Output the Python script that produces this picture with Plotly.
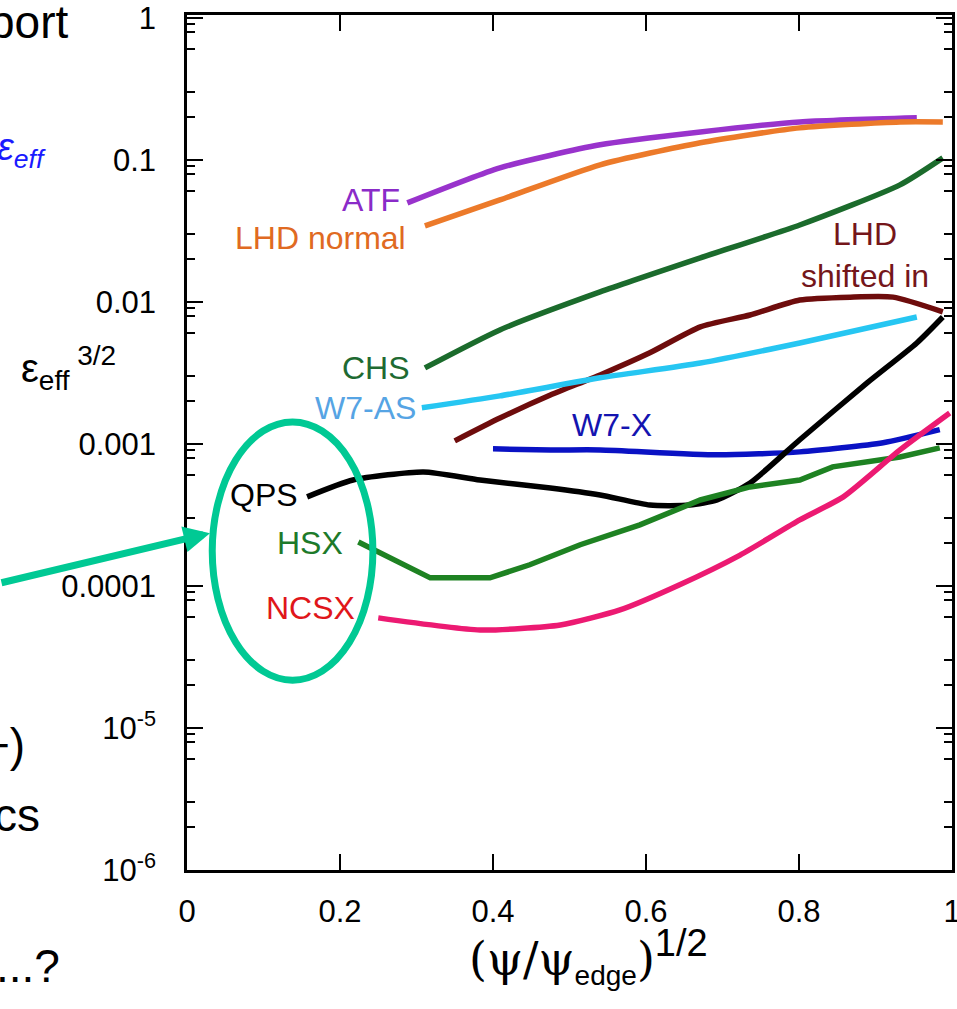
import plotly.graph_objects as go

# Effective ripple eps_eff^(3/2) versus normalised radius for several stellarators
atf_x = [0.288, 0.409, 0.540, 0.671, 0.801, 0.954]
atf_y = [0.0498, 0.0879, 0.1276, 0.157, 0.185, 0.198]

lhd_normal_x = [0.311, 0.409, 0.540, 0.671, 0.801, 0.932, 0.988]
lhd_normal_y = [0.0343, 0.0522, 0.0923, 0.132, 0.168, 0.185, 0.185]

chs_x = [0.311, 0.409, 0.540, 0.671, 0.801, 0.932, 0.988]
chs_y = [0.00343, 0.00635, 0.01175, 0.0204, 0.0348, 0.0667, 0.1033]

lhd_shift_x = [0.350, 0.409, 0.475, 0.540, 0.605, 0.671, 0.736, 0.801, 0.867, 0.923, 0.988]
lhd_shift_y = [0.00105, 0.00152, 0.00221, 0.00306, 0.00438, 0.00667, 0.00809, 0.0103, 0.0108, 0.0108, 0.00851]

w7as_x = [0.307, 0.409, 0.540, 0.671, 0.801, 0.954]
w7as_y = [0.00180, 0.00218, 0.00292, 0.00371, 0.00514, 0.00783]

w7x_x = [0.400, 0.475, 0.540, 0.693, 0.801, 0.910, 0.984]
w7x_y = [0.000923, 0.000907, 0.000907, 0.000838, 0.000879, 0.00102, 0.00126]

qps_x = [0.157, 0.217, 0.309, 0.383, 0.475, 0.540, 0.605, 0.657, 0.693, 0.736,
         0.801, 0.889, 0.954, 0.988]
qps_y = [0.000424, 0.000557, 0.000635, 0.000557, 0.000490, 0.000437, 0.000371,
         0.000371, 0.000403, 0.000531, 0.00107, 0.00269, 0.00514, 0.00783]

hsx_x = [0.224, 0.318, 0.396, 0.448, 0.514, 0.592, 0.671, 0.736, 0.801, 0.844, 0.932, 0.984]
hsx_y = [0.000204, 0.000114, 0.000114, 0.000141, 0.000195, 0.000269, 0.000403,
         0.000498, 0.000557, 0.000689, 0.000809, 0.000938]

ncsx_x = [0.250, 0.383, 0.488, 0.566, 0.644, 0.723, 0.801, 0.858, 0.932, 0.997]
ncsx_y = [5.96e-5, 4.90e-5, 5.31e-5, 6.78e-5, 1.02e-4, 1.65e-4, 2.92e-4, 4.24e-4,
          9.07e-4, 1.65e-3]

y_tick_vals = [1e-6, 1e-5, 1e-4, 1e-3, 1e-2, 1e-1, 1]
y_tick_text = ["10<sup>-6</sup>", "10<sup>-5</sup>", "0.0001", "0.001", "0.01", "0.1", "1"]
x_tick_vals = [0, 0.2, 0.4, 0.6, 0.8, 1]
x_tick_text = ["0", "0.2", "0.4", "0.6", "0.8", "1"]

SANS = "Arial, Liberation Sans, sans-serif"
TEAL = "#00c994"

series = [
    (atf_x, atf_y, "#9933cc", "ATF", "spline"),
    (lhd_normal_x, lhd_normal_y, "#ec7a2a", "LHD normal", "spline"),
    (chs_x, chs_y, "#1b6b2c", "CHS", "spline"),
    (lhd_shift_x, lhd_shift_y, "#6e0c0c", "LHD shifted in", "spline"),
    (w7as_x, w7as_y, "#26c6f2", "W7-AS", "spline"),
    (w7x_x, w7x_y, "#0a12c4", "W7-X", "spline"),
    (qps_x, qps_y, "#000000", "QPS", "spline"),
    (hsx_x, hsx_y, "#1e8222", "HSX", "linear"),
    (ncsx_x, ncsx_y, "#ec1a72", "NCSX", "spline"),
]

fig = go.Figure()
for xs, ys, col, name, shape in series:
    line = dict(color=col, width=5.5, shape=shape)
    if shape == "spline":
        line["smoothing"] = 0.6
    fig.add_trace(go.Scatter(x=xs, y=ys, mode="lines", line=line, name=name,
                             showlegend=False))

# curve labels: (text, x, log10 y, colour, x anchor)
labels = [
    ("ATF", 0.281, -1.282, "#8a2bc8", "right"),
    ("LHD normal", 0.289, -1.549, "#e06a22", "right"),
    ("LHD<br>shifted in", 0.886, -1.669, "#74161a", "center"),
    ("CHS", 0.294, -2.465, "#1e6a32", "right"),
    ("W7-AS", 0.302, -2.746, "#56a4e4", "right"),
    ("W7-X", 0.556, -2.866, "#1414b0", "center"),
    ("QPS", 0.148, -3.359, "#000000", "right"),
    ("HSX", 0.207, -3.697, "#1d7a2a", "right"),
    ("NCSX", 0.222, -4.155, "#e0161a", "right"),
]
for text, lx, ly, col, anchor in labels:
    fig.add_annotation(x=lx, y=ly, xref="x", yref="y", text=text, showarrow=False,
                       xanchor=anchor, yanchor="middle",
                       font=dict(family=SANS, size=32, color=col))

# axis titles
fig.add_annotation(
    x=-0.155, y=0.587, xref="paper", yref="paper", showarrow=False,
    xanchor="center", yanchor="middle",
    text="ε<sub>eff</sub><sup> 3/2</sup>",
    font=dict(family=SANS, size=40, color="black"))
fig.add_annotation(
    x=0.525, y=-0.058, xref="paper", yref="paper", showarrow=False,
    xanchor="center", yanchor="top",
    text="<span style='font-family:DejaVu Serif'>(ψ/ψ</span>"
         "<sub><span style='font-size:28px'>edge</span></sub>"
         "<span style='font-family:DejaVu Serif'>)</span>"
         "<sup><span style='font-size:38px'>1/2</span></sup>",
    font=dict(family=SANS, size=46, color="black"))

# surrounding slide text
side_text = [
    ("port", -0.153, 0.992, "black", False, 46),
    ("ε<sub>eff</sub>", -0.182, 0.842, "#1a1aff", True, 38),
    ("+)", -0.209, 0.146, "black", False, 46),
    ("cs", -0.190, 0.064, "black", False, 46),
    ("...?", -0.163, -0.112, "black", False, 46),
]
for text, px, py, col, italic, size in side_text:
    if italic:
        text = "<i>" + text + "</i>"
    fig.add_annotation(x=px, y=py, xref="paper", yref="paper", text=text,
                       showarrow=False, xanchor="right", yanchor="middle",
                       font=dict(family=SANS, size=size, color=col))

# highlight ring around the quasi-symmetric devices and pointer
fig.add_shape(type="circle", xref="paper", yref="paper",
              x0=0.033, x1=0.243, y0=0.222, y1=0.524,
              line=dict(color=TEAL, width=7), layer="above")
fig.add_annotation(x=0.030, y=0.394, xref="paper", yref="paper", text="",
                   showarrow=True, ax=-215, ay=50, arrowhead=2, arrowsize=0.75,
                   arrowwidth=7, arrowcolor=TEAL, standoff=0)

fig.update_layout(
    width=957, height=1009,
    margin=dict(l=187, r=5, t=15, b=139, autoexpand=False),
    paper_bgcolor="white", plot_bgcolor="white",
    font=dict(family=SANS, color="black"),
    showlegend=False,
)
fig.update_xaxes(
    range=[0, 1], tickvals=x_tick_vals, ticktext=x_tick_text,
    ticks="inside", ticklen=16, tickwidth=1.5, tickcolor="black",
    showline=True, linewidth=2.5, linecolor="black", mirror="ticks",
    showgrid=False, zeroline=False, ticklabelstandoff=12,
    ticklabeloverflow="allow", automargin=False,
    tickfont=dict(family=SANS, size=31, color="black"),
)
minor_vals = [k * 10.0 ** e for e in range(-6, 0) for k in (2, 3, 6, 8, 9)]
fig.update_yaxes(
    type="log", range=[-6, 0.02], tickvals=y_tick_vals, ticktext=y_tick_text,
    ticks="inside", ticklen=16, tickwidth=1.5, tickcolor="black",
    minor=dict(tickmode="array", tickvals=minor_vals, ticks="inside",
               ticklen=8, tickwidth=1.5, tickcolor="black", showgrid=False),
    showline=True, linewidth=2.5, linecolor="black", mirror="ticks",
    showgrid=False, zeroline=False, ticklabelstandoff=22, automargin=False,
    tickfont=dict(family=SANS, size=31, color="black"),
)

fig.write_html("out.html")
